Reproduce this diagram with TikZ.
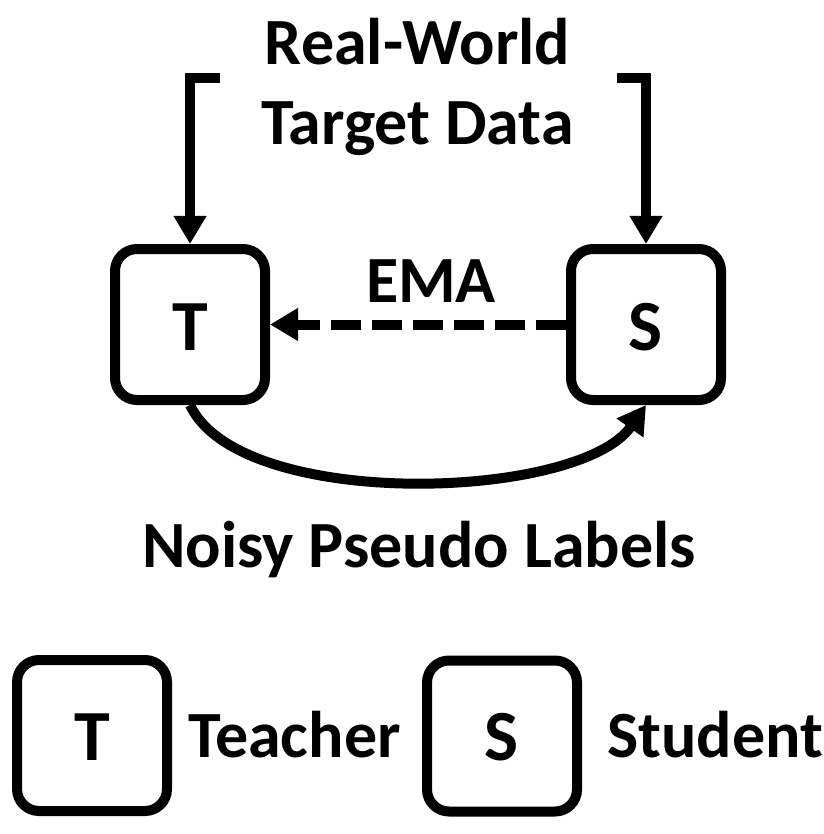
\documentclass[tikz,border=0pt]{standalone}
\usepackage{fontspec}
\setmainfont{Carlito}
\usetikzlibrary{arrows.meta}
\tikzset{
  box/.style={draw=black, line width=10pt, rounded corners=22pt, minimum width=150pt, minimum height=151pt, inner sep=0pt},
  lbl/.style={inner sep=0pt, anchor=base, font=\fontsize{66}{78}\selectfont\bfseries},
  big/.style={inner sep=0pt, anchor=base, font=\fontsize{72}{80}\selectfont\bfseries},
  flow/.style={draw=black, line width=10pt, line join=miter, -{Triangle[length=28pt,width=31pt]}},
}
\begin{document}
\begin{tikzpicture}[x=1pt,y=-1pt]
\useasboundingbox[fill=white] (0,0) rectangle (823,834);
% main boxes
\node[box] (T) at (190,324.5) {};
\node[box] (S) at (646,324.5) {};
\node[big] (Tl) at (190,350) {T};
\node[big] (Sl) at (646,350) {S};
% title
\node[lbl] (t1) at (417.5,65) {Real-World};
\node[lbl] (t2) at (417.5,145) {Target Data};
\coordinate (la) at (220,78);
\coordinate (ra) at (617,78);
\draw[flow] (la) -| (T.north);
\draw[flow] (ra) -| (S.north);
% EMA
\node[lbl] (ema) at (431,302) {EMA};
\draw[flow, dash pattern=on 30pt off 11pt] (S.west) -- (T.east);
% pseudo labels
\draw[flow] (T.south) to[out=-65, in=-125, looseness=0.66] (S.south);
\node[lbl] (npl) at (419,567) {Noisy Pseudo Labels};
% legend
\node[box] (LT) at (92,735.5) {};
\node[big] (LTl) at (92,760) {T};
\node[lbl, anchor=base west] (teacher) at (188,757) {Teacher};
\node[box] (LS) at (502,736) {};
\node[big] (LSl) at (502,760) {S};
\node[lbl, anchor=base west] (student) at (607,757) {Student};
\end{tikzpicture}
\end{document}
